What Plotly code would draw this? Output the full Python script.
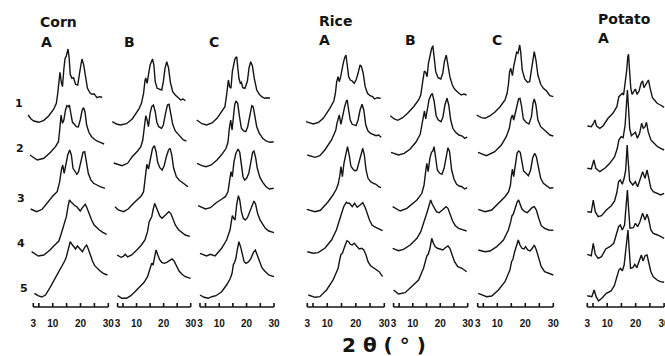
import plotly.graph_objects as go

# ---------------- data ----------------
TICK_VALUES = [3, 5, 10, 15, 20, 25, 30]
TICK_LABEL_VALUES = [3, 10, 20, 30]
TICK_LABELS = ["3", "10", "20", "30"]
ROW_LABELS = ["1", "2", "3", "4", "5"]
ROW_OFFSETS = [184, 147, 95, 51, 10]          # vertical stacking offset of each row (a.u.)
GROUP_NAMES = ["Corn", "Rice", "Potato"]
PANEL_LETTERS = ["A", "B", "C", "A", "B", "C", "A"]
X_TITLE = "2 θ ( ° )"

# each row: (2θ, intensity) points
CORN_A = [
    [(1.1, 8), (2.2, 4), (3.2, 2), (5.0, 0.7), (6.8, 2.7), (8.6, 7.3), (10.4, 14), (11.3, 19.7), (11.8, 29.7), (12.3, 44.7),
     (12.6, 50.7), (13.1, 40.7), (13.5, 36.3), (14.0, 54), (14.4, 64), (14.9, 67.3), (15.1, 70.7), (15.5, 74), (15.9, 65.3),
     (16.3, 48.7), (16.9, 44.7), (17.5, 45.3), (18.2, 38.7), (19.0, 38), (19.7, 50.7), (20.5, 64), (21.1, 58.7), (21.8, 44.7),
     (22.5, 34.7), (23.5, 29.7), (24.1, 28.7), (24.9, 29.3), (25.9, 25.3), (26.8, 26.3), (27.8, 25.7)],
    [(1.8, 5), (4.4, 0), (6.8, 1.7), (9.2, 7.7), (11.0, 13.3), (12.05, 18.3), (12.5, 30), (13.0, 45), (13.5, 36.7), (14.0, 40),
     (14.6, 50), (15.1, 54.3), (15.6, 53.3), (16.0, 55), (16.5, 46.7), (17.1, 37.7), (17.8, 35.7), (18.5, 33.3), (19.2, 33),
     (19.9, 40), (20.6, 50), (21.1, 52.3), (21.6, 48.3), (22.2, 35), (23.0, 27.7), (24.0, 23.3), (24.9, 21), (25.9, 19),
     (27.1, 17.7), (28.5, 16)],
    [(2.05, 3), (4.2, 0.3), (6.2, 2.7), (8.2, 10.3), (10.1, 16.3), (11.6, 20.3), (12.5, 30.3), (13.1, 42), (13.6, 47), (14.1, 38.7),
     (14.7, 48.7), (15.4, 57), (16.1, 62), (16.7, 57), (17.3, 43.7), (18.0, 40.3), (18.7, 37.7), (19.3, 40.3), (20.1, 52),
     (20.9, 59.7), (21.5, 60.3), (22.05, 52), (22.8, 38.7), (23.7, 32), (24.7, 28.7), (25.9, 27), (27.05, 25.3), (28.8, 23.7)],
    [(2.4, 4.3), (4.8, 0), (6.8, 1), (9.0, 6), (11.0, 11.7), (12.2, 15), (13.0, 21.7), (13.7, 27.7), (14.2, 31), (14.5, 34.3),
     (14.9, 39.3), (15.5, 49.3), (16.0, 56), (16.5, 54.3), (17.05, 52.7), (17.5, 52.3), (18.1, 50), (18.7, 49.3), (19.3, 47),
     (19.9, 45), (20.5, 47.7), (21.1, 50.3), (21.7, 51.7), (22.3, 48.3), (23.0, 42.7), (24.0, 36), (24.9, 31), (25.9, 28.3),
     (26.8, 26), (28.0, 23.7), (29.4, 21.7)],
    [(3.4, 3.7), (4.7, 1.3), (6.0, 0), (7.4, 2), (9.0, 9.3), (10.6, 17), (11.9, 23.7), (13.4, 30.3), (14.3, 36), (14.9, 40.3),
     (15.4, 45.3), (15.9, 48.7), (16.3, 55.3), (16.9, 52.7), (17.5, 50.3), (18.2, 48), (18.9, 51), (19.5, 48.7), (20.1, 47),
     (20.7, 45.3), (21.5, 49.7), (22.2, 52), (22.8, 48), (23.5, 41.3), (24.3, 36), (25.1, 31.3), (26.1, 28), (27.05, 26),
     (28.2, 23.7), (29.7, 22)],
]

CORN_B = [
    [(1.05, 1.3), (2.6, -1), (4.0, -2), (6.3, -0.7), (8.4, 4), (10.0, 10.7), (10.9, 14), (11.8, 19.7), (12.6, 29.7), (13.1, 42),
     (13.4, 45), (13.9, 39.7), (14.4, 49.7), (15.0, 58), (15.5, 61.3), (15.9, 64), (16.4, 58), (16.9, 41.3), (17.6, 34.7),
     (18.45, 33.7), (19.3, 33), (19.9, 41.3), (20.5, 54.7), (21.15, 61.3), (21.8, 55.3), (22.5, 40.7), (23.35, 31.3), (24.3, 28),
     (25.3, 25.3), (26.3, 23), (27.2, 24), (28.0, 22.3)],
    [(1.55, -3), (4.6, -5.7), (6.7, -3.3), (8.4, 3.3), (10.4, 9), (11.6, 13.3), (12.3, 20), (12.8, 30), (13.4, 44.3), (13.9, 40),
     (14.4, 33.3), (15.0, 46.7), (15.6, 53.3), (16.25, 55), (16.9, 48.3), (17.5, 37.7), (18.2, 33.3), (19.2, 31.7), (19.9, 35),
     (20.7, 46.7), (21.4, 55), (22.0, 55.7), (22.6, 48.3), (23.35, 35.7), (24.3, 29), (25.3, 25.7), (26.3, 22.3), (27.3, 20),
     (28.4, 19)],
    [(2.05, 5.3), (3.25, 2), (5.2, 0.3), (6.9, 3), (8.9, 8.7), (10.6, 13), (11.8, 16.3), (12.6, 20.3), (13.3, 33.7), (13.8, 47.7),
     (14.4, 43), (15.15, 55.3), (15.9, 63.7), (16.6, 66.3), (17.2, 60.3), (17.8, 49.7), (18.6, 44.3), (19.45, 42), (20.2, 46.3),
     (21.0, 55.3), (21.8, 62), (22.4, 63.7), (23.0, 57), (23.7, 43.7), (24.7, 35.3), (25.7, 32), (26.8, 29.7), (27.8, 27),
     (29.0, 25.3)],
    [(2.8, 1), (4.25, -1.3), (5.1, -0.3), (5.85, 1.7), (6.7, -1), (8.2, 1), (10.1, 6), (11.8, 11), (13.1, 16), (14.05, 24.3),
     (14.65, 34.3), (15.15, 37.7), (15.6, 39.3), (16.1, 46), (16.7, 52.7), (17.2, 49.3), (17.85, 44.3), (18.6, 40), (19.4, 37.7),
     (20.2, 39.3), (21.0, 41.7), (21.9, 44.3), (22.6, 42.7), (23.35, 37.7), (24.3, 31), (25.6, 26), (26.8, 23.3), (28.0, 21),
     (29.7, 19.7)],
    [(3.0, 1.3), (4.6, -1.3), (6.3, -1.3), (7.9, 1.3), (9.4, 5.3), (11.35, 10.3), (12.8, 14.7), (14.05, 20.3), (15.0, 28.7),
     (15.6, 33.7), (16.1, 32), (16.6, 39.3), (17.2, 47), (17.85, 42), (18.6, 37), (19.3, 34.7), (20.2, 33.7), (21.15, 34.7),
     (22.1, 36), (23.1, 38), (23.85, 36), (24.7, 31.3), (25.7, 26), (26.8, 22.7), (28.0, 20.3), (29.97, 18.7)],
]

CORN_C = [
    [(1.8, 3), (3.7, -0.7), (5.4, -2), (7.4, 0), (9.2, 4.7), (10.5, 10.3), (12.1, 16.3), (12.7, 28), (13.35, 43), (13.8, 36.3),
     (14.3, 34.7), (14.8, 51.3), (15.3, 59.7), (15.65, 63), (16.0, 65.3), (16.4, 66.3), (16.75, 56.3), (17.2, 44.7), (17.7, 39.7),
     (18.1, 40.7), (18.6, 35.3), (19.4, 34.7), (20.3, 42), (20.9, 55.3), (21.5, 61.3), (22.1, 57.3), (22.8, 44.7), (23.7, 33),
     (24.65, 28.7), (25.5, 26.3), (26.6, 24.7), (27.6, 25.3), (28.5, 24.7)],
    [(1.9, -3.3), (3.7, -5.7), (5.2, -6.7), (7.1, -5), (9.2, 0), (11.0, 5.7), (12.5, 11.7), (13.2, 17.7), (13.7, 31.7), (14.2, 40),
     (14.7, 30), (15.2, 43.3), (15.65, 55), (16.1, 59), (16.75, 56.7), (17.35, 44.3), (18.1, 31.7), (18.9, 29), (19.7, 28.3),
     (20.4, 33.3), (21.3, 46.7), (21.9, 54.3), (22.4, 53.3), (23.0, 43.3), (23.7, 33.3), (24.65, 26.7), (25.9, 21.7), (27.1, 19),
     (28.5, 17.7), (29.9, 18.3)],
    [(2.3, 6.3), (5.0, 3), (6.8, 4.3), (8.8, 9), (11.0, 13), (12.25, 15.3), (13.2, 20.3), (13.8, 30.3), (14.3, 40.3), (14.8, 35.3),
     (15.4, 50.3), (16.1, 58.7), (16.9, 63), (17.5, 59.7), (18.1, 46.3), (18.7, 35.3), (19.3, 32), (20.0, 33.7), (20.8, 38.7),
     (21.5, 50.3), (22.2, 59.7), (22.7, 61), (23.3, 54.3), (23.9, 43.7), (24.9, 34.3), (25.9, 29.7), (27.1, 25.3), (28.3, 23),
     (29.9, 23.7)],
    [(3.0, 2.7), (5.4, 0), (6.8, 1.7), (8.5, 0), (10.9, 7.7), (12.7, 16), (13.95, 26), (14.4, 34.3), (14.8, 40.3), (15.3, 37.7),
     (15.8, 36), (16.4, 51.7), (17.0, 60.3), (17.5, 56), (18.1, 44.3), (18.8, 37.7), (19.5, 36), (20.3, 38.3), (21.1, 44.3),
     (22.0, 51), (22.7, 55), (23.3, 51.7), (24.0, 42.7), (24.9, 36), (25.9, 31), (26.85, 27.7), (28.1, 25), (30.0, 23.3)],
    [(3.0, 2), (4.5, -0.3), (6.0, -1.3), (7.3, 0.3), (8.8, 1.3), (10.9, 5.3), (12.7, 12), (13.95, 18), (14.7, 23.7), (15.2, 32.7),
     (15.65, 34.7), (16.1, 38.7), (16.6, 47), (17.2, 55.3), (17.8, 50.3), (18.45, 42), (19.1, 35.3), (19.8, 33.7), (20.75, 35.3),
     (21.6, 38.7), (22.5, 44.7), (23.2, 47), (23.9, 42), (24.8, 33.7), (25.6, 29.3), (26.6, 26), (28.1, 22), (30.0, 20.3)],
]

RICE_A = [
    [(2.55, 1.3), (5.1, -1), (6.95, 0.7), (8.6, 4.7), (10.9, 14.7), (12.3, 22), (12.85, 29.7), (13.3, 41.3), (13.8, 46.3),
     (14.2, 41.3), (14.7, 46.3), (15.2, 56.3), (15.6, 59.7), (16.1, 65.3), (16.55, 68), (17.0, 58), (17.5, 46.3), (18.1, 43),
     (18.75, 42), (19.45, 39.7), (20.1, 43), (20.8, 49.7), (21.5, 58), (22.0, 56.3), (22.6, 49.7), (23.3, 36.3), (24.1, 29.7),
     (25.0, 27.3), (25.9, 26.3), (26.6, 24), (27.5, 25.3), (28.7, 24.7)],
    [(3.0, 5), (5.7, 2.7), (7.4, 4.3), (9.15, 10), (11.5, 20), (13.0, 30), (13.4, 36.7), (13.8, 41.7), (14.2, 45), (14.8, 35.7),
     (15.4, 45), (16.1, 53.3), (16.7, 59), (17.0, 60), (17.5, 50), (18.05, 40), (18.75, 35.7), (19.45, 35), (20.1, 34.3),
     (20.8, 40), (21.5, 50), (22.2, 55.7), (22.8, 50), (23.5, 35), (24.3, 29), (25.2, 26.7), (26.2, 25), (27.1, 24.3), (28.0, 25),
     (28.9, 22.7)],
    [(2.8, 2.7), (5.7, 0.3), (7.6, 1.7), (10.3, 10.3), (12.0, 17), (13.2, 23), (13.8, 27.7), (14.35, 35.3), (14.8, 45.3),
     (15.3, 35.3), (15.85, 48.7), (16.55, 58.7), (17.1, 65.3), (17.7, 57), (18.3, 45.7), (19.0, 43), (19.7, 41), (20.4, 42),
     (21.1, 48.7), (21.8, 57.7), (22.45, 63.7), (23.0, 57), (23.6, 42), (24.3, 33.7), (25.2, 30.3), (26.2, 28.7), (27.1, 27.7),
     (28.0, 25.3), (28.9, 24.3)],
    [(3.0, 4.3), (5.1, 2.7), (6.8, 3.3), (9.15, 7.7), (11.5, 16), (13.2, 26), (14.1, 34.3), (14.9, 42.7), (15.75, 49.3),
     (16.7, 53.7), (17.25, 52.7), (17.8, 52.7), (18.3, 50.3), (18.75, 49.3), (19.6, 52.7), (20.5, 48.7), (21.5, 51), (22.45, 53.3),
     (23.4, 47.7), (24.1, 41.7), (24.8, 36), (25.7, 31), (26.5, 29.3), (27.7, 27.7), (29.4, 25.3)],
    [(3.35, 2), (5.7, -0.3), (7.4, 0.3), (9.75, 7), (12.05, 17), (13.8, 28.7), (14.35, 37), (14.8, 42.7), (15.3, 43.7),
     (15.75, 48), (16.3, 52), (16.9, 56.3), (17.5, 55.3), (18.1, 52.7), (18.75, 52), (19.45, 53.7), (20.3, 50.3), (21.2, 48),
     (22.1, 48.7), (22.8, 47), (23.5, 42.7), (24.3, 35.3), (25.2, 31.3), (26.2, 29.3), (27.1, 27), (28.2, 25.3), (29.4, 20.3)],
]

RICE_B = [
    [(1.8, 7.3), (3.25, 4), (4.5, 2.7), (6.3, 5.3), (8.1, 9.7), (10.3, 16.3), (12.1, 23), (12.9, 28), (13.6, 41.3), (14.2, 52),
     (14.7, 50.7), (15.2, 46.3), (15.7, 59.7), (16.3, 69.7), (16.8, 74), (17.3, 77.3), (17.75, 68), (18.35, 51.3), (19.2, 45.3),
     (20.2, 44), (20.9, 49.7), (21.5, 61.3), (22.2, 68), (22.8, 59.7), (23.5, 46.3), (24.4, 38), (25.2, 34), (26.4, 30.7),
     (27.65, 28), (28.6, 29), (29.6, 28)],
    [(2.05, 7.7), (4.8, 5), (6.9, 6.7), (9.05, 11), (11.1, 17.7), (12.7, 25.7), (13.4, 36.7), (13.9, 45), (14.25, 49), (14.7, 41),
     (15.3, 52.3), (15.9, 60), (16.5, 64.3), (17.1, 66.7), (17.75, 59), (18.5, 44.3), (19.3, 40), (20.3, 38.3), (21.0, 43.3),
     (21.7, 55), (22.45, 61.7), (23.1, 55), (23.8, 40), (24.6, 31.7), (25.6, 27.7), (26.8, 25), (28.0, 24), (28.9, 21.7),
     (29.8, 23)],
    [(2.65, 5.3), (5.4, 1), (7.85, 3.7), (9.9, 8.7), (11.5, 12), (13.3, 18.7), (14.1, 27), (14.6, 38.7), (15.1, 48.7), (15.6, 40.3),
     (16.2, 53.7), (16.8, 59.7), (17.3, 61), (17.75, 65.3), (18.35, 55.3), (18.95, 42), (19.8, 38.7), (20.6, 37.7), (21.4, 43.7),
     (22.1, 55.3), (22.8, 64.3), (23.4, 60.3), (24.15, 42), (25.0, 33), (25.95, 27.7), (26.9, 26), (27.9, 25.3), (28.9, 23),
     (29.8, 24.3)],
    [(2.65, 7.7), (4.8, 5.3), (6.6, 6.7), (9.05, 11), (11.5, 17.7), (12.9, 24.3), (13.9, 32.7), (14.5, 39.3), (14.97, 41.7),
     (15.45, 46), (15.9, 51.7), (16.5, 56), (17.1, 51.7), (17.75, 47.7), (18.6, 44.3), (19.6, 43.3), (20.4, 45), (21.4, 47.7),
     (22.1, 49.3), (22.8, 47.7), (23.5, 42.7), (24.5, 35), (25.5, 30.3), (26.7, 27.7), (28.1, 26.3), (29.6, 25)],
    [(3.0, 7), (4.8, 3), (7.2, 4.3), (9.65, 10.3), (12.1, 17), (13.9, 28.7), (14.6, 36), (15.1, 41), (15.6, 42.7), (16.2, 48),
     (16.9, 58.7), (17.5, 53.7), (18.2, 50.3), (18.95, 48.7), (19.9, 48), (20.9, 47), (21.85, 49.3), (22.8, 51), (23.5, 48.7),
     (24.4, 42), (25.2, 35.3), (26.4, 30.3), (27.9, 28.7), (29.6, 25.3)],
]

RICE_C = [
    [(2.6, 8), (4.3, 5.3), (5.6, 4.7), (7.3, 7), (9.1, 10.7), (11.0, 16.3), (12.75, 23), (13.5, 29.7), (13.95, 38), (14.4, 51.3),
     (14.8, 54.7), (15.4, 47.3), (15.85, 56.3), (16.3, 63), (16.9, 70.7), (17.4, 69.7), (18.0, 78), (18.35, 71.3), (18.9, 53),
     (19.8, 44), (20.75, 40.7), (21.55, 41.3), (22.2, 53), (22.75, 66.3), (23.2, 71.3), (23.8, 63), (24.5, 48), (25.5, 38.7),
     (26.45, 34.7), (27.6, 32), (28.8, 27.3), (30.0, 26.3)],
    [(3.1, 7.7), (6.1, 4.3), (9.1, 8.3), (11.45, 15), (13.2, 23.3), (14.3, 31.7), (14.9, 41.7), (15.4, 45), (15.85, 40),
     (16.45, 48.3), (17.05, 56.7), (17.6, 61), (18.1, 61.7), (18.6, 55), (19.3, 41), (20.25, 37.7), (21.3, 36), (22.2, 43.3),
     (22.75, 56.7), (23.2, 61), (23.8, 55), (24.5, 40), (25.5, 33.3), (26.4, 31), (27.6, 27.7), (28.8, 25), (30.0, 24)],
    [(3.2, 2.7), (5.6, 0.3), (8.0, 2), (10.4, 8.7), (12.75, 15.3), (14.05, 20.3), (14.7, 27), (15.0, 35.3), (15.4, 43),
     (15.85, 35.3), (16.45, 50.3), (17.05, 58.7), (17.6, 61), (18.2, 59.7), (18.8, 50.3), (19.4, 41), (20.25, 38.7), (21.1, 36.3),
     (21.9, 42), (22.6, 53.7), (23.35, 58.7), (23.95, 55.3), (24.65, 45.3), (25.5, 33.7), (26.45, 28.7), (27.6, 26.3),
     (28.8, 23.7), (30.0, 24.3)],
    [(3.2, 6), (5.6, 4.3), (7.4, 5), (9.8, 9.3), (12.2, 16), (13.95, 26), (14.8, 34.3), (15.25, 40.3), (15.7, 41.7), (16.3, 47.7),
     (17.05, 53.7), (17.6, 56), (18.2, 51.7), (18.8, 47), (19.8, 44.3), (20.7, 43.3), (21.6, 46), (22.4, 48.3), (23.2, 49.3),
     (23.95, 46), (24.8, 37.7), (25.7, 30.3), (26.9, 27.7), (28.35, 26), (30.0, 25.7)],
    [(3.2, 3.7), (6.2, 0.3), (8.0, 1), (10.4, 7), (12.75, 15.3), (14.5, 27), (15.1, 35.3), (15.6, 38), (16.2, 45.3), (16.9, 52),
     (17.5, 57), (18.1, 52), (18.8, 48.7), (19.5, 48), (20.1, 50.3), (20.85, 47), (21.7, 46), (22.5, 48.7), (23.2, 52), (23.95, 47),
     (24.8, 38.7), (25.7, 30.3), (26.9, 25.3), (28.2, 23.7), (30.0, 22)],
]

POTATO_A = [
    [(3.0, -3), (4.4, -3.7), (5.1, -0.7), (5.7, 3), (6.25, -3), (7.4, -5.3), (8.6, -2.7), (10.3, 4.7), (12.0, 9.7), (13.4, 16.3),
     (14.1, 26.3), (14.7, 28), (15.3, 29.7), (15.75, 28), (16.3, 38), (16.8, 51.3), (17.25, 66.3), (17.5, 68.7), (17.8, 54.7),
     (18.3, 34.7), (18.75, 28.7), (19.45, 31.3), (19.9, 34), (20.5, 28.7), (21.2, 32), (21.9, 39.7), (22.45, 42), (22.9, 35.3),
     (23.5, 38.7), (24.1, 42), (24.5, 43), (25.1, 34.7), (25.9, 25.3), (26.6, 23), (27.55, 19.7), (28.7, 18), (30.0, 15.7)],
    [(3.0, -8.3), (4.4, -9), (5.3, 0), (6.0, -8.3), (7.4, -11.7), (9.15, -8.3), (10.9, -3.3), (12.6, 3.3), (13.55, 11.7),
     (14.1, 20), (14.9, 23.3), (15.6, 22.3), (16.3, 35), (16.8, 55), (17.1, 70), (17.5, 51.7), (17.9, 31.7), (18.5, 24.3),
     (19.2, 25.7), (19.9, 27.7), (20.6, 21.7), (21.4, 26.7), (22.1, 36.7), (22.7, 31.7), (23.3, 33.3), (23.8, 37.7), (24.4, 28.3),
     (25.35, 20), (26.5, 16.7), (27.7, 13.3), (28.8, 11.7), (30.0, 10)],
    [(3.0, 0.3), (4.4, -0.3), (5.1, 12), (5.8, 0.3), (6.8, -4.7), (8.0, -3.7), (9.7, 2), (11.45, 6.3), (12.6, 11), (13.4, 19.7),
     (14.0, 30.3), (14.6, 32), (15.3, 27.7), (15.95, 33.7), (16.5, 42), (17.0, 67), (17.4, 50), (17.9, 31), (19.0, 27),
     (19.9, 30.3), (20.7, 25.3), (21.6, 32), (22.45, 40.3), (23.3, 33.7), (24.0, 42), (24.5, 35.3), (25.35, 23.7), (26.2, 20.3),
     (27.7, 18.7), (28.8, 17), (30.0, 18.7)],
    [(3.0, 1.7), (4.4, 0.3), (5.1, 12.7), (5.8, 1.7), (6.8, -2.3), (8.0, -0.7), (9.5, 7), (10.9, 9.3), (12.3, 12.7), (13.4, 22.7),
     (14.0, 29.3), (14.6, 31), (15.3, 26), (16.1, 31), (16.6, 45), (17.1, 66), (17.5, 48), (18.0, 27.7), (19.2, 28.3),
     (19.9, 32.7), (20.7, 29.3), (21.5, 34.3), (22.45, 42.7), (23.3, 36), (24.0, 41.7), (24.5, 37.7), (25.35, 26), (26.2, 22.7),
     (27.7, 21), (29.4, 18.7), (30.0, 17.7)],
    [(3.0, 1.3), (4.6, 0.3), (5.4, 7), (6.1, 0.3), (6.95, -4), (8.1, -1.3), (9.7, 3.7), (11.35, 6), (12.5, 11.3), (13.4, 20.3),
     (14.1, 27), (14.7, 28.7), (15.3, 26), (15.95, 32), (16.55, 47), (17.0, 63.7), (17.3, 67), (17.7, 48.7), (18.2, 28.7),
     (19.0, 29.3), (19.7, 32.7), (20.4, 29.3), (21.2, 34.7), (22.0, 42), (22.6, 36), (23.3, 41.3), (24.0, 42), (24.5, 35.3),
     (25.35, 25.3), (26.2, 20.3), (27.55, 17), (28.7, 15.3), (30.0, 14.7)],
]

PANELS = [CORN_A, CORN_B, CORN_C, RICE_A, RICE_B, RICE_C, POTATO_A]

# ---------------- layout geometry (pixels) ----------------
W, H = 665, 356
AXIS_LEFT = [33.3, 117.6, 200.0, 307.3, 393.6, 477.7, 587.3]
AXIS_WIDTH = [75.0, 73.1, 74.0, 77.0, 74.1, 75.6, 76.8]
PAD_L, PAD_R = 9, 5
BASE_PX = 307                      # pixel row of the 2θ axis line
GROUP_POS = [(38, 22), (317, 20.5), (596, 19)]
LETTER_POS = [(39, 42.5), (122, 42), (207, 42), (317, 40.5), (403, 40.5), (490, 40), (596, 37.5)]
ROW_LABEL_POS = [(19, 103), (19.5, 148), (20.5, 198.5), (20.5, 243.5), (24.5, 288)]
INK = "#141414"
BOLD = dict(family="DejaVu Sans, Liberation Sans, sans-serif", weight="bold", color=INK)
TICK_FONT = dict(family="Liberation Sans", size=10, color=INK, weight="bold")

fig = go.Figure()
layout = dict(
    width=W, height=H, margin=dict(l=0, r=0, t=0, b=0, autoexpand=False),
    paper_bgcolor="white", plot_bgcolor="rgba(0,0,0,0)", showlegend=False,
    yaxis=dict(domain=[(H - BASE_PX - 3) / H, 1], range=[-3, BASE_PX], visible=False, fixedrange=True),
)

for i, rows in enumerate(PANELS):
    k = AXIS_WIDTH[i] / 27.0
    left = AXIS_LEFT[i] - PAD_L
    right = min(AXIS_LEFT[i] + AXIS_WIDTH[i] + PAD_R, W)
    lo = 3 - (AXIS_LEFT[i] - left) / k
    hi = 30 + (right - AXIS_LEFT[i] - AXIS_WIDTH[i]) / k
    name = "xaxis" if i == 0 else f"xaxis{i + 1}"
    ref = "x" if i == 0 else f"x{i + 1}"
    layout[name] = dict(
        domain=[left / W, right / W], range=[lo, hi], anchor="y",
        showline=False, showgrid=False, zeroline=False, ticks="",
        tickmode="array", tickvals=TICK_LABEL_VALUES, ticktext=TICK_LABELS,
        tickfont=TICK_FONT, ticklabelstandoff=6, ticklabeloverflow="allow",
        automargin=False, fixedrange=True,
    )
    for r, pts in enumerate(rows):
        fig.add_trace(go.Scatter(
            x=[p[0] for p in pts], y=[ROW_OFFSETS[r] + p[1] for p in pts],
            xaxis=ref, yaxis="y", mode="lines",
            line=dict(color=INK, width=1.4), hoverinfo="skip"))
    # axis line with upward tick marks
    ax_x, ax_y = [3, 30, None], [0, 0, None]
    for t in TICK_VALUES:
        ax_x += [t, t, None]
        ax_y += [0, 4, None]
    fig.add_trace(go.Scatter(x=ax_x, y=ax_y, xaxis=ref, yaxis="y", mode="lines",
                             line=dict(color=INK, width=1.6), hoverinfo="skip"))

annotations = []
for name, (px, py) in zip(GROUP_NAMES, GROUP_POS):
    annotations.append(dict(text=name, x=px / W, y=1 - py / H, xref="paper", yref="paper",
                            xanchor="left", yanchor="middle", showarrow=False, font=dict(size=14, **BOLD)))
for letter, (px, py) in zip(PANEL_LETTERS, LETTER_POS):
    annotations.append(dict(text=letter, x=px / W, y=1 - py / H, xref="paper", yref="paper",
                            xanchor="left", yanchor="middle", showarrow=False, font=dict(size=14, **BOLD)))
for lab, (px, py) in zip(ROW_LABELS, ROW_LABEL_POS):
    annotations.append(dict(text=lab, x=px / W, y=1 - py / H, xref="paper", yref="paper",
                            xanchor="center", yanchor="middle", showarrow=False, font=dict(size=11, **BOLD)))
annotations.append(dict(text=X_TITLE, x=384 / W, y=1 - 345 / H, xref="paper", yref="paper",
                        xanchor="center", yanchor="middle", showarrow=False, font=dict(size=20, **BOLD)))
layout["annotations"] = annotations

fig.update_layout(**layout)
fig.write_html("out.html", config={"displayModeBar": False})
